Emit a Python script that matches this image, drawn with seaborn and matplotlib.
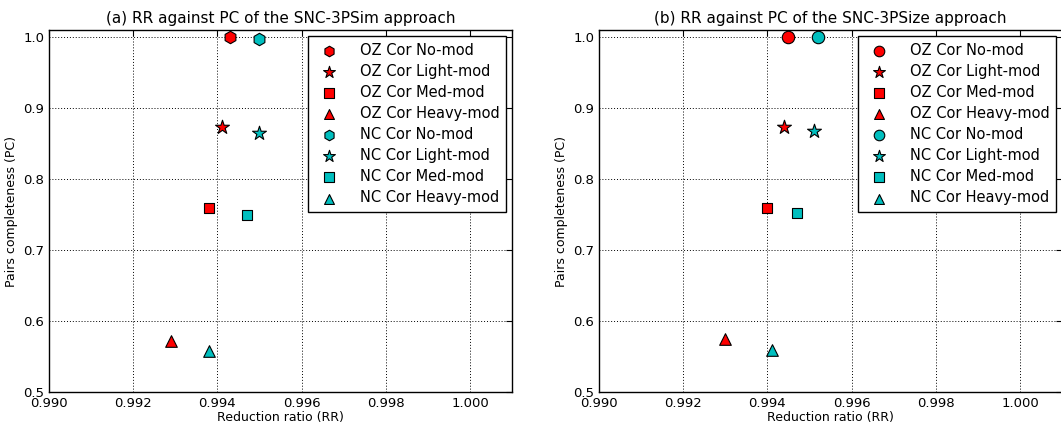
import matplotlib
matplotlib.use("Agg")
import matplotlib.pyplot as plt
import seaborn as sns
import pandas as pd

labels = ["OZ Cor No-mod", "OZ Cor Light-mod", "OZ Cor Med-mod", "OZ Cor Heavy-mod",
          "NC Cor No-mod", "NC Cor Light-mod", "NC Cor Med-mod", "NC Cor Heavy-mod"]
colors = ["#ff0000"] * 4 + ["#00bfbf"] * 4

rr_sim = [0.9943, 0.9941, 0.9938, 0.9929, 0.9950, 0.9950, 0.9947, 0.9938]
pc_sim = [1.000, 0.873, 0.759, 0.572, 0.998, 0.865, 0.750, 0.558]

rr_size = [0.9945, 0.9944, 0.9940, 0.9930, 0.9952, 0.9951, 0.9947, 0.9941]
pc_size = [1.000, 0.874, 0.759, 0.575, 1.000, 0.868, 0.752, 0.559]

markers_sim = ["h", "*", "s", "^"] * 2
markers_size = ["o", "*", "s", "^"] * 2

titles = ["(a) RR against PC of the SNC-3PSim approach",
          "(b) RR against PC of the SNC-3PSize approach"]
xticks = [0.990, 0.992, 0.994, 0.996, 0.998, 1.000]
yticks = [0.5, 0.6, 0.7, 0.8, 0.9, 1.0]

sns.set_style("white")
plt.rcParams["font.family"] = ["DejaVu Sans"]
plt.rcParams["text.color"] = "black"
plt.rcParams["axes.labelcolor"] = "black"
plt.rcParams["xtick.color"] = "black"
plt.rcParams["ytick.color"] = "black"

fig = plt.figure(figsize=(10.61, 4.25), dpi=100)
ax1 = fig.add_axes([0.0462, 0.0776, 0.4364, 0.8514])
ax2 = fig.add_axes([0.5646, 0.0776, 0.4364, 0.8514])

sizes = {"h": 80, "o": 80, "*": 110, "s": 60, "^": 70}

for ax, rr, pc, mk, title in [(ax1, rr_sim, pc_sim, markers_sim, titles[0]),
                              (ax2, rr_size, pc_size, markers_size, titles[1])]:
    for i in range(len(labels)):
        df = pd.DataFrame({"RR": [rr[i]], "PC": [pc[i]]})
        sns.scatterplot(data=df, x="RR", y="PC", ax=ax, marker=mk[i],
                        color=colors[i], edgecolor="black", linewidth=0.8,
                        s=sizes[mk[i]], label=labels[i], zorder=3)
    ax.set_xlim(0.990, 1.001)
    ax.set_ylim(0.5, 1.01)
    ax.set_xticks(xticks)
    ax.set_xticklabels([f"{t:.3f}" for t in xticks])
    ax.set_yticks(yticks)
    ax.set_yticklabels([f"{t:.1f}" for t in yticks])
    ax.grid(True, linestyle=(0, (1, 2)), color="black", linewidth=0.7)
    ax.set_axisbelow(True)
    ax.tick_params(direction="in", length=4, top=True, right=True, labelsize=9.5,
                   color="black", width=0.8, labelcolor="black")
    for sp in ax.spines.values():
        sp.set_color("black")
        sp.set_linewidth(1.0)
    ax.set_xlabel("Reduction ratio (RR)", fontsize=9, labelpad=1, color="black")
    ax.set_ylabel("Pairs completeness (PC)", fontsize=9, color="black")
    ax.set_title(title, fontsize=11, pad=5, color="black")
    leg = ax.legend(loc="upper right", fontsize=10.5, frameon=True, fancybox=False,
                    borderaxespad=0.4, handletextpad=1.1, labelspacing=0.42,
                    scatterpoints=1, borderpad=0.45, markerscale=0.85)
    leg.get_frame().set_edgecolor("black")
    leg.get_frame().set_linewidth(1.0)
    leg.get_frame().set_alpha(1)
    for t in leg.get_texts():
        t.set_color("black")

fig.savefig("out.png", dpi=100)
